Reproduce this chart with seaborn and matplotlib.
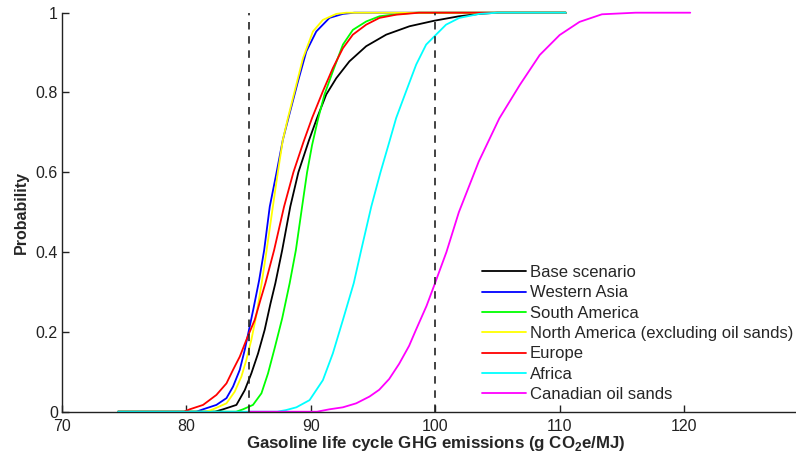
import numpy as np
import pandas as pd
import matplotlib
matplotlib.use("Agg")
import matplotlib.pyplot as plt
import seaborn as sns

# ---- data ----
series_names = ["Base scenario", "Western Asia", "South America",
                "North America (excluding oil sands)", "Europe", "Africa",
                "Canadian oil sands"]
series_colors = ["#000000", "#0000ff", "#00ff00", "#ffff00", "#ff0000",
                 "#00ffff", "#ff00ff"]

base_x = [74.5, 82.3, 82.95, 84.02, 84.69, 85.22, 85.76, 86.29, 86.75, 87.15,
          87.7, 88.35, 89.0, 89.85, 90.5, 91.24, 92.05, 93.1, 94.45, 96.06,
          97.93, 99.94, 101.9, 103.55, 105.0, 110.5]
base_y = [0, 0, 0.006, 0.017, 0.054, 0.096, 0.146, 0.205, 0.27, 0.322,
          0.405, 0.514, 0.6, 0.68, 0.736, 0.795, 0.836, 0.878, 0.916, 0.945,
          0.966, 0.98, 0.991, 0.997, 1.0, 1.0]

wasia_x = [74.5, 80.8, 81.34, 82.41, 83.22, 83.75, 84.29, 84.69, 85.03, 85.4,
           85.85, 86.25, 86.7, 87.25, 87.75, 88.2, 88.97, 89.64, 90.44, 91.5,
           92.58, 93.5, 110.5]
wasia_y = [0, 0, 0.006, 0.017, 0.034, 0.063, 0.105, 0.155, 0.205, 0.26,
           0.33, 0.405, 0.514, 0.6, 0.681, 0.736, 0.828, 0.903, 0.953, 0.987,
           0.997, 1.0, 1.0]

samer_x = [74.5, 84.0, 84.55, 85.35, 86.03, 86.56, 87.1, 87.7, 88.3, 88.8,
           89.3, 89.7, 90.1, 90.6, 91.1, 91.77, 92.58, 93.38, 94.45, 95.52,
           97.1, 98.5, 110.5]
samer_y = [0, 0, 0.006, 0.017, 0.046, 0.096, 0.16, 0.234, 0.322, 0.405,
           0.514, 0.6, 0.668, 0.736, 0.795, 0.853, 0.92, 0.957, 0.978, 0.991,
           0.997, 1.0, 1.0]

namer_x = [74.5, 81.6, 82.14, 83.22, 83.88, 84.42, 84.82, 85.22, 85.6, 86.05,
           86.45, 86.95, 87.35, 87.75, 88.16, 88.7, 89.37, 90.17, 90.97, 92.05,
           92.85, 110.5]
namer_y = [0, 0, 0.006, 0.021, 0.05, 0.088, 0.13, 0.18, 0.238, 0.322,
           0.405, 0.514, 0.6, 0.681, 0.736, 0.803, 0.886, 0.953, 0.982, 0.997,
           1.0, 1.0]

europe_x = [74.5, 79.8, 80.27, 81.34, 82.41, 83.22, 83.75, 84.29, 84.82, 85.49,
            85.95, 86.35, 87.05, 87.85, 88.6, 89.4, 90.1, 90.97, 91.77, 92.58,
            93.38, 94.45, 95.52, 96.86, 98.7, 110.5]
europe_y = [0, 0, 0.006, 0.017, 0.042, 0.071, 0.105, 0.138, 0.18, 0.23,
            0.28, 0.322, 0.405, 0.514, 0.6, 0.675, 0.736, 0.803, 0.861, 0.911,
            0.945, 0.97, 0.987, 0.995, 1.0, 1.0]

africa_x = [74.5, 87.3, 88.0, 88.84, 89.9, 90.97, 91.77, 92.58, 93.45, 94.05,
            94.86, 95.6, 96.3, 96.86, 97.66, 98.47, 99.27, 99.94, 100.87, 101.94,
            103.55, 105.0, 110.5]
africa_y = [0, 0, 0.004, 0.011, 0.029, 0.079, 0.146, 0.23, 0.322, 0.405,
            0.514, 0.6, 0.675, 0.736, 0.803, 0.87, 0.92, 0.941, 0.97, 0.987,
            0.997, 1.0, 1.0]

cos_x = [85.0, 90.5, 91.5, 92.58, 93.65, 94.72, 95.5, 96.3, 97.1, 97.9, 98.45,
         99.3, 99.9, 100.9, 101.9, 103.5, 105.15, 106.8, 108.4, 110.0, 111.6,
         113.4, 116.1, 120.5]
cos_y = [0, 0, 0.006, 0.011, 0.021, 0.038, 0.055, 0.082, 0.12, 0.165, 0.205,
         0.265, 0.315, 0.4, 0.5, 0.627, 0.735, 0.819, 0.894, 0.944, 0.977,
         0.996, 1.0, 1.0]

series_x = [base_x, wasia_x, samer_x, namer_x, europe_x, africa_x, cos_x]
series_y = [base_y, wasia_y, samer_y, namer_y, europe_y, africa_y, cos_y]

thresholds = [85, 100]
x_ticks = [70, 80, 90, 100, 110, 120]
y_ticks = [0, 0.2, 0.4, 0.6, 0.8, 1]
y_ticklabels = ["0", "0.2", "0.4", "0.6", "0.8", "1"]

# ---- style ----
sns.set_theme(style="ticks")
plt.rcParams["font.family"] = ["Liberation Sans", "DejaVu Sans"]
plt.rcParams["mathtext.fontset"] = "custom"
plt.rcParams["mathtext.rm"] = "Liberation Sans"
plt.rcParams["mathtext.bf"] = "Liberation Sans:bold"

fig = plt.figure(figsize=(7.96, 4.54), dpi=100)
ax = fig.add_axes([62 / 796, (454 - 411.7) / 454, (796 - 62) / 796, (411.7 - 12.7) / 454])

frames = []
for name, xs, ys in zip(series_names, series_x, series_y):
    frames.append(pd.DataFrame({"x": xs, "y": ys, "series": name}))
df = pd.concat(frames, ignore_index=True)

for name, color in zip(series_names, series_colors):
    sub = df[df["series"] == name]
    sns.lineplot(data=sub, x="x", y="y", ax=ax, color=color, lw=1.3,
                 label=name, sort=False, estimator=None, clip_on=False)

for t in thresholds:
    ax.vlines(t, 0, 1, colors="#222222", linestyles=(0, (4.5, 4)), lw=1.2)

ax.set_xlim(70, 129)
ax.set_ylim(0, 1)
ax.set_xticks(x_ticks)
ax.set_xticklabels([str(v) for v in x_ticks])
ax.set_yticks(y_ticks)
ax.set_yticklabels(y_ticklabels)
ax.tick_params(direction="in", length=5, width=1, labelsize=11.5, pad=3,
               colors="#222222")
ax.tick_params(axis="x", pad=5)
for s in ["top", "right"]:
    ax.spines[s].set_visible(False)
for s in ["left", "bottom"]:
    ax.spines[s].set_linewidth(1.0)
    ax.spines[s].set_color("#222222")

ax.set_xlabel(r"Gasoline life cycle GHG emissions (g CO$_\mathbf{2}$e/MJ)",
              fontsize=12.2, fontweight="bold", labelpad=1)
ax.xaxis.set_label_coords(0.51, -0.055)
ax.set_ylabel("Probability", fontsize=11.5, fontweight="bold", labelpad=5)

ax.legend(loc="lower left", bbox_to_anchor=(0.572, 0.024), frameon=False,
          fontsize=12, handlelength=2.65, handletextpad=0.24, labelspacing=0.32,
          borderpad=0, borderaxespad=0)

fig.savefig("out.png", dpi=100)
